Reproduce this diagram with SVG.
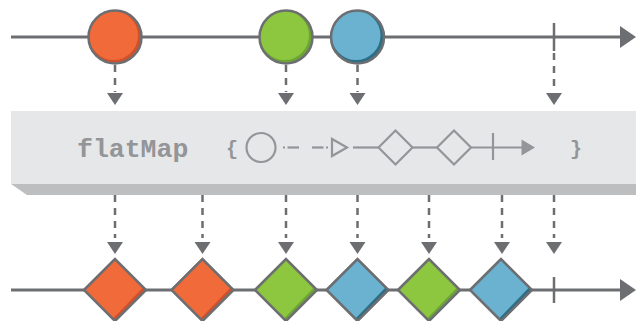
<svg xmlns="http://www.w3.org/2000/svg" width="636" height="321" viewBox="0 0 636 321">
<defs>
<style>
.ln{stroke:#6d6e71;stroke-width:3;fill:none}
.tk{stroke:#6d6e71;stroke-width:2.5}
.ah{fill:#6d6e71}
.dash{stroke:#6d6e71;stroke-width:2.5;stroke-dasharray:7 6;fill:none}
.ol{fill:none;stroke:#6d6e71;stroke-width:2.5}
.g{stroke:#939598;stroke-width:2.2;fill:none}
.txt{font-family:"Liberation Mono","DejaVu Sans Mono",monospace;font-weight:bold;fill:#939598}
</style>
<polygon id="ahd" points="-8,0 8,0 0,12"/>
</defs>
<rect width="636" height="321" fill="#ffffff"/>

<g id="box">
<rect x="11" y="111" width="625" height="73" fill="#e6e7e8"/>
<polygon points="11,184 636,184 636,195 27,195" fill="#bcbec0"/>
</g>

<g id="connectors">
<line class="ln" x1="11" y1="37" x2="622" y2="37"/>
<polygon class="ah" points="620,26 636,37 620,48"/>
<line class="tk" x1="554" y1="23" x2="554" y2="51"/>
<line class="ln" x1="11" y1="290" x2="622" y2="290"/>
<polygon class="ah" points="620,279 636,290 620,301"/>
<line class="tk" x1="554" y1="277" x2="554" y2="303"/>

<line class="dash" x1="115" y1="65" x2="115" y2="92"/>
<use href="#ahd" class="ah" x="115" y="93"/>
<line class="dash" x1="286" y1="65" x2="286" y2="92"/>
<use href="#ahd" class="ah" x="286" y="93"/>
<line class="dash" x1="357.5" y1="65" x2="357.5" y2="92"/>
<use href="#ahd" class="ah" x="357.5" y="93"/>
<line class="dash" x1="554" y1="53" x2="554" y2="92"/>
<use href="#ahd" class="ah" x="554" y="93"/>

<line class="dash" x1="115" y1="195" x2="115" y2="238"/>
<use href="#ahd" class="ah" x="115" y="242"/>
<line class="dash" x1="202.5" y1="195" x2="202.5" y2="238"/>
<use href="#ahd" class="ah" x="202.5" y="242"/>
<line class="dash" x1="286" y1="195" x2="286" y2="238"/>
<use href="#ahd" class="ah" x="286" y="242"/>
<line class="dash" x1="357.5" y1="195" x2="357.5" y2="238"/>
<use href="#ahd" class="ah" x="357.5" y="242"/>
<line class="dash" x1="429" y1="195" x2="429" y2="238"/>
<use href="#ahd" class="ah" x="429" y="242"/>
<line class="dash" x1="502" y1="195" x2="502" y2="238"/>
<use href="#ahd" class="ah" x="502" y="242"/>
<line class="dash" x1="554" y1="195" x2="554" y2="238"/>
<use href="#ahd" class="ah" x="554" y="242"/>
</g>

<g id="c1">
<circle cx="115" cy="37" r="26" fill="#d1502a"/>
<circle cx="113.5" cy="35.5" r="24.5" fill="#f06a3a"/>
<circle class="ol" cx="115" cy="37" r="26.5"/>
</g>
<g id="c2">
<circle cx="286" cy="37" r="26" fill="#6ca534"/>
<circle cx="284.5" cy="35.5" r="24.5" fill="#8dc63f"/>
<circle class="ol" cx="286" cy="37" r="26.5"/>
</g>
<g id="c3">
<circle cx="357.5" cy="37" r="26" fill="#2b6e85"/>
<circle cx="356" cy="35.5" r="24.5" fill="#6bb1d0"/>
<circle class="ol" cx="357.5" cy="37" r="26.5"/>
</g>

<g id="op">
<text class="txt" x="77" y="157" font-size="26.5">flatMap</text>
<text class="txt" x="226" y="155" font-size="20">{</text>
<text class="txt" x="570" y="155" font-size="20">}</text>
<circle class="g" cx="261" cy="147.5" r="14.5"/>
<line class="g" x1="283" y1="147.5" x2="285" y2="147.5"/>
<line class="g" x1="287.5" y1="147.5" x2="299" y2="147.5"/>
<line class="g" x1="312" y1="147.5" x2="323.5" y2="147.5"/>
<line class="g" x1="326" y1="147.5" x2="328" y2="147.5"/>
<polygon class="g" points="332,139 332,156 347,147.5"/>
<line class="g" x1="353" y1="147.5" x2="378.5" y2="147.5"/>
<polygon class="g" points="378.5,147.5 395.5,130.5 412.5,147.5 395.5,164.5"/>
<line class="g" x1="412.5" y1="147.5" x2="437" y2="147.5"/>
<polygon class="g" points="437,147.5 454,130.5 471,147.5 454,164.5"/>
<line class="g" x1="471" y1="147.5" x2="523" y2="147.5"/>
<line class="g" x1="493" y1="133" x2="493" y2="160"/>
<polygon points="521.5,139.5 535,147.5 521.5,155.5" fill="#939598"/>
</g>

<g id="d1">
<polygon points="84,290 115,259 146,290 115,321" fill="#d1502a"/>
<polygon points="83.5,289 113.5,259 142.5,288 113.5,318" fill="#f06a3a"/>
<polygon class="ol" points="84,290 115,259 146,290 115,321"/>
</g>
<g id="d2">
<polygon points="171.5,290 202.5,259 233.5,290 202.5,321" fill="#d1502a"/>
<polygon points="171,289 201,259 230,288 201,318" fill="#f06a3a"/>
<polygon class="ol" points="171.5,290 202.5,259 233.5,290 202.5,321"/>
</g>
<g id="d3">
<polygon points="255,290 286,259 317,290 286,321" fill="#6ca534"/>
<polygon points="254.5,289 284.5,259 313.5,288 284.5,318" fill="#8dc63f"/>
<polygon class="ol" points="255,290 286,259 317,290 286,321"/>
</g>
<g id="d4">
<polygon points="326.5,290 357.5,259 388.5,290 357.5,321" fill="#2b6e85"/>
<polygon points="326,289 356,259 385,288 356,318" fill="#6bb1d0"/>
<polygon class="ol" points="326.5,290 357.5,259 388.5,290 357.5,321"/>
</g>
<g id="d5">
<polygon points="398,290 429,259 460,290 429,321" fill="#6ca534"/>
<polygon points="397.5,289 427.5,259 456.5,288 427.5,318" fill="#8dc63f"/>
<polygon class="ol" points="398,290 429,259 460,290 429,321"/>
</g>
<g id="d6">
<polygon points="470,290 501,259 532,290 501,321" fill="#2b6e85"/>
<polygon points="469.5,289 499.5,259 528.5,288 499.5,318" fill="#6bb1d0"/>
<polygon class="ol" points="470,290 501,259 532,290 501,321"/>
</g>
</svg>
